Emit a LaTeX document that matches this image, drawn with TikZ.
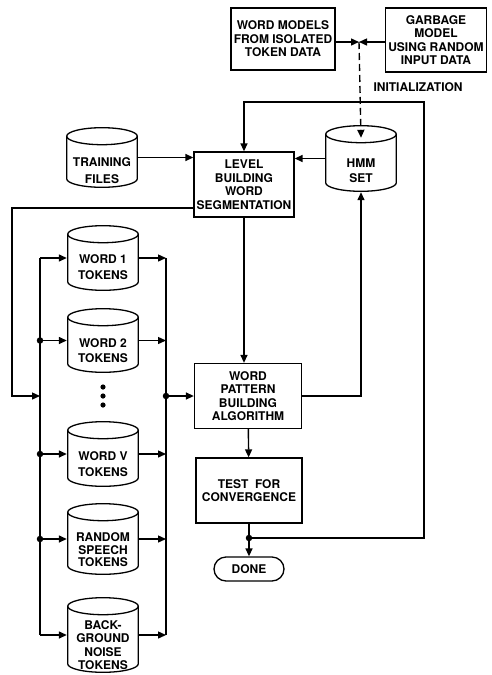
\documentclass[tikz,border=0pt]{standalone}
\usepackage{fontspec}
\setmainfont{TeX Gyre Heros}
\usepackage{tikz}
\usetikzlibrary{shapes.geometric, arrows.meta, positioning, calc}

\begin{document}
\begin{tikzpicture}[
        x=1pt, y=-1pt,
        font=\bfseries\fontsize{12}{13.5}\selectfont,
        caixa/.style={rectangle, draw=black, line width=1.3pt, align=center, inner sep=0pt},
        % cilindro desenhado dentro da caixa do nó
        cilindro/.style={rectangle, inner sep=0pt, minimum width=72pt,
            path picture={
                \draw[line width=1.3pt] ([yshift=-9.2pt]path picture bounding box.north)
                    ellipse [x radius=35.3pt, y radius=8.5pt];
                \draw[line width=1.3pt]
                    ([xshift=-35.3pt,yshift=-9.2pt]path picture bounding box.north)
                    -- ([xshift=-35.3pt,yshift=9.2pt]path picture bounding box.south)
                    arc [start angle=180, end angle=360, x radius=35.3pt, y radius=8.5pt]
                    -- ([xshift=35.3pt,yshift=-9.2pt]path picture bounding box.north);
            }},
        texto/.style={align=center, inner sep=0pt},
        seta/.style={line width=1.4pt, -{Triangle[length=8pt,width=7pt]}},
        linha/.style={line width=1.4pt},
        ponto/.style={circle, fill=black, inner sep=0pt, minimum size=6.5pt}
    ]
        \useasboundingbox (0,0) rectangle (492,675);

        % Modelos iniciais
        \node[caixa, minimum width=104pt, minimum height=62pt] (modelos) at (283,39) {WORD MODELS\\FROM ISOLATED\\TOKEN DATA};
        \node[caixa, minimum width=101pt, minimum height=64pt] (lixo) at (436,40) {GARBAGE\\MODEL\\USING RANDOM\\INPUT DATA};
        \coordinate (juncao) at (359,42);
        \node[anchor=west] (rotulo) at (370,87) {INITIALIZATION};

        % Bloco central
        \node[cilindro, minimum height=61pt] (treino) at (102,157.5) {};
        \node[texto] (treinot) at ([yshift=-13pt]treino.center) {TRAINING\\[3pt]FILES};
        \node[caixa, minimum width=100pt, minimum height=65pt] (nivel) at (244,184.5) {LEVEL\\BUILDING\\WORD\\SEGMENTATION};
        \node[cilindro, minimum height=67pt] (hmm) at (361,158.5) {};
        \node[texto] (hmmt) at ([yshift=-12pt]hmm.center) {HMM\\[2pt]SET};
        \node[caixa, minimum width=107pt, minimum height=65pt] (padroes) at (248,396) {WORD\\PATTERN\\BUILDING\\ALGORITHM};
        \node[caixa, minimum width=106pt, minimum height=65pt] (teste) at (249,490.5) {TEST\ \ FOR\\CONVERGENCE};
        \node[caixa, rounded corners=12pt, minimum width=70pt, minimum height=24pt] (fim) at (249,569) {DONE};
        \node[ponto] (juncfim) at (249,538) {};
        \coordinate (canto) at (424,102);

        % Tokens por palavra
        \node[cilindro, minimum height=66pt] (w1) at (103,258) {};
        \node[texto] (w1t) at ([yshift=-9pt]w1.center) {WORD 1\\[2pt]TOKENS};
        \node[cilindro, minimum height=65pt] (w2) at (103,340.5) {};
        \node[texto] (w2t) at ([yshift=-10pt]w2.center) {WORD 2\\[2pt]TOKENS};
        \node[cilindro, minimum height=66pt] (wv) at (103,454) {};
        \node[texto] (wvt) at ([yshift=-10pt]wv.center) {WORD V\\[2pt]TOKENS};
        \node[cilindro, minimum height=72pt] (fala) at (103,539) {};
        \node[texto] (falat) at ([yshift=-11pt]fala.center) {RANDOM\\[-1pt]SPEECH\\[-1pt]TOKENS};
        \node[cilindro, minimum height=76pt] (ruido) at (103,635) {};
        \node[texto] (ruidot) at ([yshift=-10pt]ruido.center) {BACK-\\GROUND\\NOISE\\TOKENS};
        \foreach \y in {387,396,405}
            \fill (103,\y) circle (2.6pt);
        \coordinate (barraE) at (40,396);
        \coordinate (barraD) at (166,396);

        % Conexões
        \draw[seta] (modelos.east |- juncao) -- (juncao);
        \draw[seta] (lixo.west |- juncao) -- (juncao);
        \draw[seta, dash pattern=on 7pt off 4pt] (juncao) -- ($(hmm.north)+(0,13)$);
        \draw[seta] (juncfim) -| (canto) -| (nivel.north);
        \draw[seta] (treino.east) -- (treino.east -| nivel.west);
        \draw[seta] (hmm.west) -- (hmm.west -| nivel.east);
        \draw[seta] (nivel.south) -- (nivel.south |- padroes.north);
        \draw[seta] (padroes.east) -| (hmm.south);
        \draw[seta] (padroes) -- (teste);
        \draw[seta] (teste) -- (fim);
        \draw[seta] (nivel.west |- 0,208) -| (12,396) -- (barraE);

        % Barramentos
        \draw[linha] (w1.west -| barraE) -- (ruido.west -| barraE);
        \draw[linha] (w1.east -| barraD) -- (ruido.east -| barraD);
        \foreach \c in {w1,w2,wv,fala,ruido} {
            \draw[seta] (\c.west -| barraE) -- (\c.west);
            \draw[seta] (\c.east) -- (\c.east -| barraD);
        }
        \foreach \c in {w2,wv,fala}
            \node[ponto] at (\c.west -| barraE) {};
        \node[ponto] (juncD) at (barraD) {};
        \draw[seta] (juncD) -- (barraD -| padroes.west);
\end{tikzpicture}
\end{document}
